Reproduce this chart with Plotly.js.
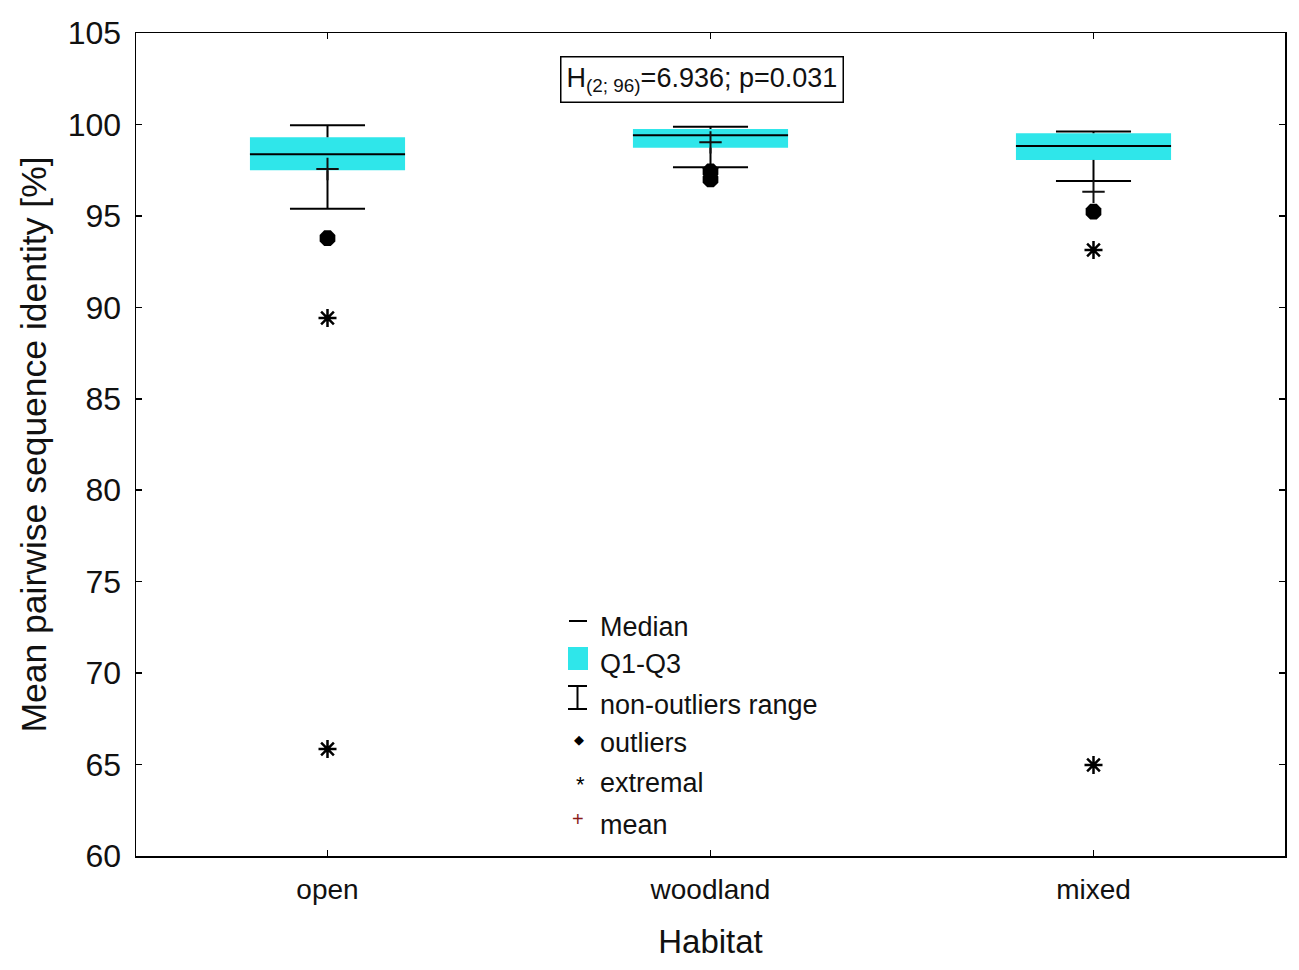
<!DOCTYPE html>
<html>
<head>
<meta charset="utf-8">
<script src="https://cdn.plot.ly/plotly-3.0.1.min.js"></script>
<style>
  html, body { margin: 0; padding: 0; background: #fff; }
  #chart { width: 1299px; height: 970px; }
</style>
</head>
<body>
<div id="chart"></div>
<script>
// summary statistics per habitat
const habitats = ["open", "woodland", "mixed"];
const q1 = [97.49, 98.73, 98.06];
const q3 = [99.3, 99.75, 99.52];
const medians = [98.37, 99.41, 98.82];
const lowerFence = [95.39, 97.66, 96.91];
const upperFence = [99.95, 99.88, 99.62];
const means = [97.56, 99.02, 96.32];

const outlierGroup = [0, 1, 1, 2];
const outlierValues = [93.78, 97.43, 96.99, 95.23];

const extremeGroup = [0, 0, 2, 2];
const extremeValues = [89.42, 65.85, 93.14, 64.98];

const yTicks = [60, 65, 70, 75, 80, 85, 90, 95, 100, 105];

const legendLabels = ["Median", "Q1-Q3", "non-outliers range", "outliers", "extremal", "mean"];

const FONT = "Liberation Sans, Arial, sans-serif";
const CYAN = "#2fe6ea";
const BOX_HALF = 0.2025;
const CAP_HALF = 0.098;

// plot area in pixels, used only to place the legend and stat box
const M = { l: 136, r: 14, t: 33, b: 114 };
const W = 1299, H = 970;
const px = (x) => (x - M.l) / (W - M.l - M.r);
const py = (y) => (H - M.b - y) / (H - M.t - M.b);

function _segments(items) {
  const xs = [];
  const ys = [];
  items.forEach(([x0, y0, x1, y1]) => {
    xs.push(x0, x1, null);
    ys.push(y0, y1, null);
  });
  return { x: xs, y: ys };
}

const idx = habitats.map((_, i) => i);

const medianSeg = _segments(idx.map((i) => [i - BOX_HALF, medians[i], i + BOX_HALF, medians[i]]));
const whiskerSeg = _segments(
  idx.flatMap((i) => [
    [i, q3[i], i, upperFence[i]],
    [i, q1[i], i, lowerFence[i]],
    [i - CAP_HALF, upperFence[i], i + CAP_HALF, upperFence[i]],
    [i - CAP_HALF, lowerFence[i], i + CAP_HALF, lowerFence[i]],
  ])
);

const data = [
  {
    type: "bar",
    x: idx,
    base: q1,
    y: idx.map((i) => q3[i] - q1[i]),
    width: BOX_HALF * 2,
    marker: { color: CYAN, line: { width: 0 } },
    hoverinfo: "skip",
    showlegend: false,
  },
  {
    type: "scatter",
    mode: "lines",
    x: whiskerSeg.x,
    y: whiskerSeg.y,
    line: { color: "black", width: 2 },
    hoverinfo: "skip",
    showlegend: false,
  },
  {
    type: "scatter",
    mode: "lines",
    x: medianSeg.x,
    y: medianSeg.y,
    line: { color: "black", width: 2 },
    hoverinfo: "skip",
    showlegend: false,
  },
  {
    type: "scatter",
    mode: "markers",
    x: idx,
    y: means,
    marker: { symbol: "cross-thin-open", size: 16, color: "#111", line: { color: "#111", width: 2 } },
    showlegend: false,
  },
  {
    type: "scatter",
    mode: "markers",
    x: outlierGroup,
    y: outlierValues,
    marker: { symbol: "octagon", size: 17, color: "black" },
    showlegend: false,
  },
  {
    type: "scatter",
    mode: "markers",
    x: extremeGroup,
    y: extremeValues,
    marker: { symbol: "asterisk-open", size: 15, color: "black", line: { color: "black", width: 2.5 } },
    showlegend: false,
  },
];

// legend drawn by hand, Statistica style
const rowY = [627, 664, 705, 743, 783, 825];
const textX = 598;
const annotations = legendLabels.map((label, k) => ({
  xref: "paper",
  yref: "paper",
  x: px(textX),
  y: py(rowY[k]),
  xanchor: "left",
  yanchor: "middle",
  text: label,
  showarrow: false,
  font: { family: FONT, size: 27, color: "#111" },
}));
annotations.push(
  {
    xref: "paper", yref: "paper", x: px(579), y: py(739),
    xanchor: "center", yanchor: "middle", text: "◆", showarrow: false,
    font: { family: "DejaVu Sans", size: 13, color: "black" },
  },
  {
    xref: "paper", yref: "paper", x: px(580), y: py(784),
    xanchor: "center", yanchor: "middle", text: "*", showarrow: false,
    font: { family: FONT, size: 22, color: "black" },
  },
  {
    xref: "paper", yref: "paper", x: px(578), y: py(819),
    xanchor: "center", yanchor: "middle", text: "+", showarrow: false,
    font: { family: FONT, size: 20, color: "#8b1a1a" },
  },
  {
    xref: "paper", yref: "paper", x: px(702), y: py(80),
    xanchor: "center", yanchor: "middle",
    text: "H<sub>(2; 96)</sub>=6.936; p=0.031",
    showarrow: false,
    bgcolor: "white",
    bordercolor: "black",
    borderwidth: 1.5,
    borderpad: 5,
    font: { family: FONT, size: 27, color: "#111" },
  }
);

const legendLine = (x0, y0, x1, y1) => ({
  type: "line", xref: "paper", yref: "paper",
  x0: px(x0), y0: py(y0), x1: px(x1), y1: py(y1),
  line: { color: "black", width: 2 },
});
const shapes = [
  legendLine(569, 621, 587, 621),
  {
    type: "rect", xref: "paper", yref: "paper",
    x0: px(568), y0: py(670), x1: px(588), y1: py(647),
    fillcolor: CYAN, line: { width: 0 },
  },
  legendLine(568, 686, 587, 686),
  legendLine(577.5, 686, 577.5, 709),
  legendLine(568, 709, 587, 709),
];

const layout = {
  width: W,
  height: H,
  margin: M,
  paper_bgcolor: "white",
  plot_bgcolor: "white",
  font: { family: FONT, color: "#111" },
  showlegend: false,
  xaxis: {
    range: [-0.5, 2.5],
    tickvals: idx,
    ticktext: habitats,
    ticks: "inside",
    ticklen: 6,
    tickwidth: 1.5,
    tickcolor: "black",
    showline: true,
    linecolor: "black",
    linewidth: 1.5,
    mirror: "ticks",
    showgrid: false,
    zeroline: false,
    ticklabelstandoff: 8,
    tickfont: { family: FONT, size: 28, color: "#111" },
    title: { text: "Habitat", font: { family: FONT, size: 33, color: "#111" }, standoff: 26 },
  },
  yaxis: {
    range: [60, 105],
    tickvals: yTicks,
    ticks: "inside",
    ticklen: 6,
    tickwidth: 1.5,
    tickcolor: "black",
    showline: true,
    linecolor: "black",
    linewidth: 1.5,
    mirror: "ticks",
    showgrid: false,
    zeroline: false,
    ticklabelstandoff: 7,
    tickfont: { family: FONT, size: 32, color: "#111" },
    title: {
      text: "Mean pairwise sequence identity [%]",
      font: { family: FONT, size: 35.5, color: "#111" },
      standoff: 10,
    },
  },
  annotations: annotations,
  shapes: shapes,
};

Plotly.newPlot("chart", data, layout, { staticPlot: true, displayModeBar: false });
</script>
</body>
</html>
